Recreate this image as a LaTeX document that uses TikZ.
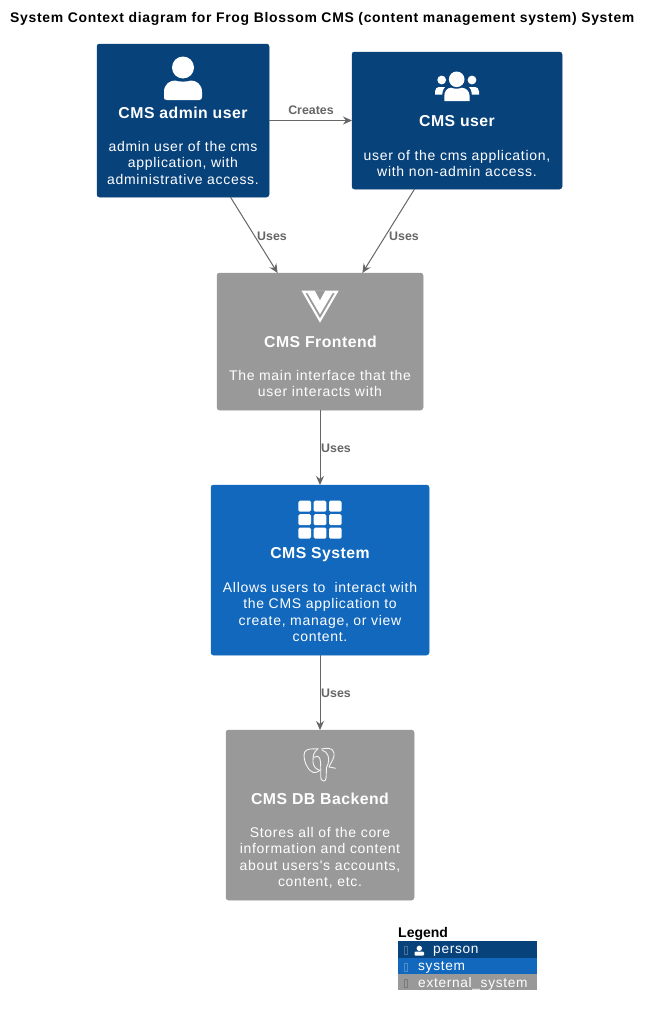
\documentclass[tikz,border=0pt]{standalone}
\usepackage{fontspec}
\setmainfont{Liberation Sans}
\newfontfamily\spacedfont[LetterSpace=5]{Liberation Sans}
\newfontfamily\titlefont[LetterSpace=5]{Liberation Sans Bold}
\newfontfamily\boxheadfont[LetterSpace=3]{Liberation Sans Bold}
\definecolor{personblue}{HTML}{08427B}
\definecolor{systemblue}{HTML}{1168BD}
\definecolor{extgray}{HTML}{999999}
\definecolor{linkgray}{HTML}{666666}
\usetikzlibrary{arrows.meta}
\tikzset{
  box/.style={rounded corners=2.5pt,inner sep=0pt,outer sep=0pt,draw=#1,fill=#1,line width=0.5pt},
  boxtitle/.style={text=white,font=\boxheadfont\fontsize{15.8}{16}\selectfont,inner sep=0pt,text height=11pt,text depth=3pt},
  boxdesc/.style={text=white,font=\spacedfont\fontsize{14}{16.5}\selectfont,align=center,inner sep=0pt},
  link/.style={draw=linkgray,line width=1pt,-{Stealth[length=9pt,width=8pt]}},
  linklabel/.style={text=linkgray,font=\bfseries\fontsize{12.4}{14}\selectfont,inner sep=0pt},
  icon/.style={fill=white,draw=none},
  sketch/.style={draw=white!88!extgray,line width=0.9pt,fill=none,line cap=round,line join=round},
  legendrow/.style={text=white,font=\spacedfont\fontsize{13.7}{15}\selectfont,inner sep=0pt,anchor=west},
  legendcell/.style={draw=none,fill=#1},
  stub/.style={draw=#1,line width=0.6pt,fill=none}
}
\begin{document}
\begin{tikzpicture}[x=1pt,y=-1pt]
\useasboundingbox (0,0) rectangle (652,1017);
\fill[white] (0,0) rectangle (652,1017);

\node[anchor=west,inner sep=0pt,font=\titlefont\fontsize{13.95}{15}\selectfont] (title) at (10,19) {System Context diagram for Frog Blossom CMS (content management system) System};

% boxes
\node[box=personblue,minimum width=172pt,minimum height=153pt] (admin) at (183,120.5) {};
\node[box=personblue,minimum width=210pt,minimum height=137pt] (user) at (457,120.5) {};
\node[box=extgray,minimum width=206pt,minimum height=137pt] (front) at (320,341.5) {};
\node[box=systemblue,minimum width=218pt,minimum height=170pt] (sys) at (320,570) {};
\node[box=extgray,minimum width=188pt,minimum height=170pt] (db) at (320,815) {};

% connectors
\draw[link] (admin) -- (user);
\draw[link] (admin) -- (front);
\draw[link] (user) -- (front);
\draw[link] (front) -- (sys);
\draw[link] (sys) -- (db);
\node[linklabel] (lcreates) at (311,110) {Creates};
\node[linklabel] (luses1) at (272,236) {Uses};
\node[linklabel] (luses2) at (404,236) {Uses};
\node[linklabel] (luses3) at (336,448) {Uses};
\node[linklabel] (luses4) at (336,693) {Uses};

% box texts
\node[boxtitle] (admint) at (183,114.2) {CMS admin user};
\node[boxdesc] (admind) at (183,162.7) {admin user of the cms\\application, with\\administrative access.};
\node[boxtitle] (usert) at (457,122.2) {CMS user};
\node[boxdesc] (userd) at (457,163.7) {user of the cms application,\\with non-admin access.};
\node[boxtitle] (frontt) at (320.5,343.2) {CMS Frontend};
\node[boxdesc] (frontd) at (320,383.7) {The main interface that the\\user interacts with};
\node[boxtitle] (syst) at (320,554.8) {CMS System};
\node[boxdesc] (sysd) at (320,612.2) {Allows users to \ interact with\\the CMS application to\\create, manage, or view\\content.};
\node[boxtitle] (dbt) at (320,800.2) {CMS DB Backend};
\node[boxdesc] (dbd) at (320,858) {Stores all of the core\\information and content\\about users's accounts,\\content, etc.};

% person icon
\fill[icon] (183,67.5) circle (11);
\fill[icon] (164,100) -- (164,92) .. controls (164,84) and (170,80.5) .. (175,80.5) .. controls (179,82) and (187,82) .. (191,80.5) .. controls (196,80.5) and (202,84) .. (202,92) -- (202,97) .. controls (202,99) and (201,100) .. (199,100) -- (167,100) .. controls (165,100) and (164,99) .. (164,97) -- cycle;

% users icon
\fill[icon] (456.7,79.3) circle (7.8);
\fill[icon] (441.7,80) circle (4.4);
\fill[icon] (472,80) circle (4.4);
\fill[icon] (444.3,101) -- (444.3,96) .. controls (444.3,91) and (447,88) .. (451,87.7) .. controls (454,89) and (459,89) .. (462,87.7) .. controls (466,88) and (469.6,91) .. (469.6,96) -- (469.6,101) -- cycle;
\fill[icon] (435,94.6) -- (435,91.5) .. controls (435,88.5) and (437,87) .. (439,87) -- (445,87) .. controls (444,88) and (442.6,90) .. (442.2,94.6) -- cycle;
\fill[icon] (479,94.6) -- (479,91.5) .. controls (479,88.5) and (477,87) .. (475,87) -- (469,87) .. controls (470,88) and (471.6,90) .. (471.8,94.6) -- cycle;

% vue icon
\fill[icon,even odd rule] (301.5,290.7) -- (338.7,290.7) -- (320,322.7) -- cycle
  (305.3,293) -- (320,318.5) -- (334.9,293) -- (332.6,293) -- (320,314.3) -- (307.5,293) -- cycle
  (314.8,290.7) -- (320,300.5) -- (325.2,290.7) -- cycle;

% grid icon
\foreach \gx in {298.3,313.7,329}{
  \foreach \gy in {500.7,514.2,527.6}{
    \fill[icon,rounded corners=1.5pt] (\gx,\gy) rectangle ++(12.7,11);
  }
}

% elephant icon
\draw[sketch] (313,772.3) .. controls (306,769) and (304,760) .. (304,755) .. controls (304,750) and (308,749) .. (313,748.8) -- (318,748.8);
\draw[sketch] (318,748.8) .. controls (313,752) and (313,757) .. (313,762) .. controls (313,766) and (316,769) .. (319,770);
\draw[sketch] (321.3,749) .. controls (326,748) and (333,747) .. (334,753) .. controls (335,758) and (331,762) .. (329,767) -- (335.5,768.2);
\draw[sketch] (314,757.3) .. controls (316,755.5) and (319,756) .. (320,759) .. controls (321,763) and (320.7,770) .. (320.7,777) .. controls (320.7,781) and (324.5,782) .. (325.5,780) .. controls (326.5,778) and (326.3,772) .. (326.3,768);
\draw[sketch] (322,750) .. controls (328,752) and (330,758) .. (328,764) -- (326.3,768);
\draw[sketch] (313,772.3) .. controls (315,773.5) and (318,772) .. (320.7,769.5);

% legend
\node[anchor=west,inner sep=0pt,font=\bfseries\fontsize{14}{16}\selectfont] (legend) at (398,934) {Legend};
\fill[legendcell=personblue] (398,940.5) rectangle (537,957.5);
\fill[legendcell=systemblue] (398,957.5) rectangle (537,974);
\fill[legendcell=extgray] (398,974) rectangle (537,990);
\draw[stub=personblue!75!white] (404.5,946.5) rectangle (407.5,954.5);
\draw[stub=systemblue!75!white] (404.5,963.5) rectangle (407.5,971.5);
\draw[stub=extgray!80!black] (404.5,979) rectangle (407.5,987);
\fill[icon] (419.3,948.3) circle (2.7);
\fill[icon,rounded corners=1pt] (414.5,955.5) -- (414.5,951.5) -- (424,951.5) -- (424,955.5) -- cycle;
\node[legendrow] (lperson) at (433,951.5) {person};
\node[legendrow] (lsystem) at (418,967.5) {system};
\node[legendrow] (lext) at (418,983.5) {external\_system};
\end{tikzpicture}
\end{document}
